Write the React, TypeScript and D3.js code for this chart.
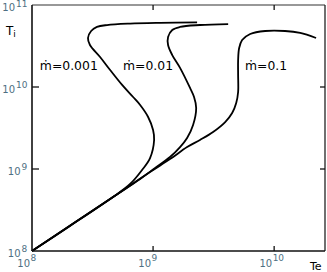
import React from "react";
import * as d3 from "d3";

const W = 327;
const H = 272;

// Curve data: electron temperature Te vs ion temperature Ti
const te001 = [1e8, 2.06e8, 4.67e8, 6.46e8, 8.11e8, 9.44e8, 1.02e9, 1.0e9, 9.1e8, 7.82e8, 6.84e8, 5.55e8, 4.42e8, 3.65e8, 3.01e8, 2.9e8, 3.08e8, 3.44e8, 4.17e8, 6.46e8, 1.14e9, 2.31e9];
const ti001 = [1e8, 2.02e8, 4.56e8, 6.56e8, 9.73e8, 1.36e9, 2.26e9, 2.99e9, 4.31e9, 6.03e9, 7.55e9, 1.06e10, 1.61e10, 2.32e10, 3.25e10, 3.96e10, 4.82e10, 5.4e10, 5.7e10, 5.94e10, 6.07e10, 6.15e10];

const te01 = [1e8, 4.67e8, 7.82e8, 1.04e9, 1.38e9, 1.67e9, 1.91e9, 2.14e9, 2.27e9, 2.18e9, 2.02e9, 1.67e9, 1.44e9, 1.33e9, 1.33e9, 1.44e9, 1.67e9, 2.44e9, 4.17e9];
const ti01 = [1e8, 4.56e8, 7.55e8, 1.03e9, 1.4e9, 1.85e9, 2.39e9, 3.44e9, 5.55e9, 7.55e9, 9.73e9, 1.71e10, 2.45e10, 3.25e10, 4.07e10, 4.96e10, 5.4e10, 5.7e10, 5.86e10];

const te1 = [1e8, 4.67e8, 9.44e8, 1.38e9, 1.91e9, 2.44e9, 3.13e9, 3.94e9, 4.5e9, 4.86e9, 5.04e9, 5.04e9, 5.04e9, 5.14e9, 5.44e9, 6.34e9, 8.43e9, 1.23e10, 1.64e10, 2.22e10];
const ti1 = [1e8, 4.56e8, 9.19e8, 1.32e9, 1.85e9, 2.26e9, 2.83e9, 3.74e9, 4.82e9, 6.38e9, 8.69e9, 1.4e10, 2.13e10, 2.99e10, 3.74e10, 4.43e10, 4.82e10, 4.82e10, 4.56e10, 3.96e10];

const seriesLabels = ["ṁ=0.001", "ṁ=0.01", "ṁ=0.1"];
const labelTe = [1.16e8, 5.65e8, 5.75e9];
const labelTi = [1.61e10, 1.61e10, 1.61e10];

const xTickValues = [1e8, 1e9, 1e10];
const xTickExps = ["8", "9", "10"];
const yTickValues = [1e8, 1e9, 1e10, 1e11];
const yTickExps = ["8", "9", "10", "11"];

const xDomain = [1e8, Math.pow(10, 10.42)];
const yDomain = [1e8, 1e11];

export default function App() {
  const left = 32, right = 325, top = 5, bottom = 251;
  const x = d3.scaleLog().domain(xDomain).range([left, right]);
  const y = d3.scaleLog().domain(yDomain).range([bottom, top]);
  const line = d3
    .line<[number, number]>()
    .x((d) => x(d[0]))
    .y((d) => y(d[1]))
    .curve(d3.curveCatmullRom.alpha(0.5));

  const series = [
    te001.map((t, i) => [t, ti001[i]] as [number, number]),
    te01.map((t, i) => [t, ti01[i]] as [number, number]),
    te1.map((t, i) => [t, ti1[i]] as [number, number]),
  ];
  const labelWidths = [58, 50, 42];
  const tickColor = "#4e6f82";
  const font = "DejaVu Sans, Verdana, sans-serif";

  return (
    <svg
      width={W}
      height={H}
      style={{ position: "absolute", left: 0, top: 0, display: "block", background: "#fff" }}
    >
      {/* curves */}
      {series.map((s, i) => (
        <path key={i} d={line(s) || ""} fill="none" stroke="#000" strokeWidth={1.8} />
      ))}

      {/* frame */}
      <line x1={left} y1={top} x2={right} y2={top} stroke="#333" strokeWidth={1.2} />
      <line x1={right} y1={top} x2={right} y2={bottom} stroke="#222" strokeWidth={1.3} />
      <line x1={left} y1={top} x2={left} y2={bottom} stroke="#111" strokeWidth={1.6} />
      <line x1={left} y1={bottom} x2={right} y2={bottom} stroke="#111" strokeWidth={1.6} />

      {/* x ticks */}
      {xTickValues.slice(1).map((v, i) => (
        <g key={"xt" + i}>
          <line x1={x(v)} x2={x(v)} y1={bottom} y2={bottom - 5} stroke="#111" strokeWidth={1.3} />
          <line x1={x(v)} x2={x(v)} y1={top} y2={top + 5} stroke="#111" strokeWidth={1.3} />
        </g>
      ))}
      {/* y ticks */}
      {yTickValues.slice(1, 3).map((v, i) => (
        <g key={"yt" + i}>
          <line x1={left} x2={left + 7} y1={y(v)} y2={y(v)} stroke="#111" strokeWidth={1.3} />
          <line x1={right} x2={right - 5} y1={y(v)} y2={y(v)} stroke="#111" strokeWidth={1.3} />
        </g>
      ))}

      {/* x tick labels */}
      {xTickValues.map((v, i) => (
        <g key={"xl" + i} fill={tickColor} fontFamily={font}>
          <text x={x(v) - 2} y={267} fontSize={10} textAnchor="end">10</text>
          <text x={x(v) - 1.5} y={261} fontSize={9} textAnchor="start">{xTickExps[i]}</text>
        </g>
      ))}

      {/* y tick labels */}
      {yTickValues.map((v, i) => {
        const yy = y(v);
        const exp = yTickExps[i];
        const expW = exp.length * 5.5;
        const endX = 27;
        const baseY = Math.max(yy + 6, 11);
        const expY = Math.max(yy + 1, 7);
        return (
          <g key={"yl" + i} fill={tickColor} fontFamily={font}>
            <text x={endX - expW - 1} y={baseY} fontSize={10} textAnchor="end">10</text>
            <text x={endX - expW} y={expY} fontSize={9} textAnchor="start">{exp}</text>
          </g>
        );
      })}

      {/* axis titles */}
      <text x={6} y={35} fontSize={12} fontFamily={font} fill="#000">
        T<tspan fontSize={9} dy={2}>i</tspan>
      </text>
      <text x={310} y={270} fontSize={11} fontFamily={font} fill="#000">Te</text>

      {/* series labels */}
      {seriesLabels.map((s, i) => (
        <text
          key={"sl" + i}
          x={x(labelTe[i])}
          y={y(labelTi[i])}
          fontSize={12}
          fontFamily={font}
          fill="#000"
          textLength={labelWidths[i]}
          lengthAdjust="spacingAndGlyphs"
        >
          {s}
        </text>
      ))}
    </svg>
  );
}
